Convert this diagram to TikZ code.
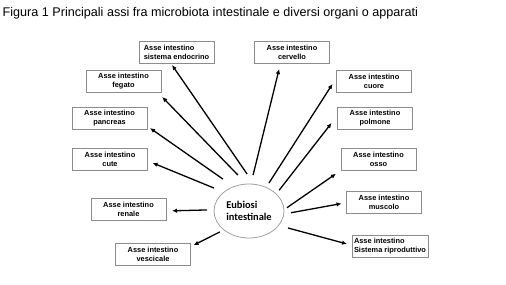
\documentclass[tikz,border=0pt]{standalone}
\usepackage{fontspec}
\setmainfont{Liberation Sans}
\newfontfamily\calib{Carlito}
\usetikzlibrary{arrows.meta,shapes.geometric}
\definecolor{boxgray}{HTML}{8C8C8C}
\definecolor{ellgray}{HTML}{A0A0A0}
\begin{document}
\begin{tikzpicture}[x=1pt,y=-1pt,
  box/.style={draw=boxgray, line width=0.8pt, minimum width=75pt, minimum height=22pt,
    inner sep=2pt, outer sep=0pt, align=center,
    font=\fontsize{7.4}{9}\selectfont\bfseries},
  arr/.style={line width=1.3pt, -{Latex[length=5pt,width=4.5pt]}},
]
\useasboundingbox (0,0) rectangle (506,284);
\node[anchor=base west, inner sep=0pt, font=\fontsize{12.6}{15}\selectfont] (title) at (2.5,16)
  {Figura 1 Principali assi fra microbiota intestinale e diversi organi o apparati};

\node[ellipse, draw=ellgray, line width=0.8pt, minimum width=70pt, minimum height=54pt,
  inner sep=1pt, outer sep=0pt, align=left,
  font=\calib\bfseries\fontsize{10.4}{12}\selectfont] (e) at (249,211) {Eubiosi\\intestinale};

\node[box, align=left] (endo) at (176.5,52) {Asse intestino\\sistema endocrino};
\node[box] (fegato) at (123.5,81) {Asse intestino\\fegato};
\node[box] (pancreas) at (109.5,118) {Asse intestino\\pancreas};
\node[box] (cute) at (110,159.5) {Asse intestino\\cute};
\node[box] (renale) at (128.5,209) {Asse intestino\\renale};
\node[box] (vescicale) at (153,254) {Asse intestino\\vescicale};
\node[box] (cervello) at (292,52) {Asse intestino\\cervello};
\node[box] (cuore) at (374,81) {Asse intestino\\cuore};
\node[box] (polmone) at (375,118) {Asse intestino\\polmone};
\node[box] (osso) at (378.5,159.5) {Asse intestino\\osso};
\node[box] (muscolo) at (384,202) {Asse intestino\\muscolo};
\node[box, align=left] (ripro) at (390,246) {Asse intestino\\Sistema riproduttivo};

\draw[arr, shorten <=12.5pt, shorten >=2.4pt] (e.79) -- (endo.242);
\draw[arr, shorten <=12.6pt, shorten >=7pt] (e.95) -- (fegato.342);
\draw[arr, shorten <=13.3pt, shorten >=3.7pt] (e.122) -- (pancreas.348);
\draw[arr, shorten <=10.8pt, shorten >=5.4pt] (e.143) -- (cute.358);
\draw[arr, shorten <=7pt, shorten >=6pt] (e.178) -- (renale.357);
\draw[arr, shorten <=4.5pt, shorten >=3.4pt] (e.217) -- (vescicale.11);
\draw[arr, shorten <=9.3pt, shorten >=6.2pt] (e.86) -- (cervello.224);
\draw[arr, shorten <=5.3pt, shorten >=7.4pt] (e.54) -- (cuore.175);
\draw[arr, shorten <=4.8pt, shorten >=9.7pt] (e.32) -- (polmone.176);
\draw[arr, shorten <=3.6pt, shorten >=6.1pt] (e.2) -- (osso.196);
\draw[arr, shorten <=7.4pt, shorten >=5.1pt] (e.355) -- (muscolo.181);
\draw[arr, shorten <=9.8pt, shorten >=5.2pt] (e.334) -- (ripro.179);
\end{tikzpicture}
\end{document}
